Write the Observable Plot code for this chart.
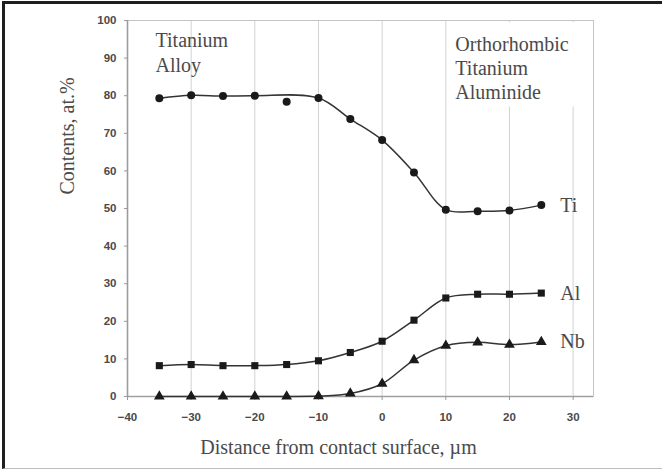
<!DOCTYPE html>
<html><head><meta charset="utf-8">
<script src="https://cdn.jsdelivr.net/npm/d3@7"></script>
<script src="https://cdn.jsdelivr.net/npm/@observablehq/plot@0.6"></script>
<style>
html,body{margin:0;padding:0;background:#fff;}
#wrap{position:relative;width:662px;height:470px;}
#border{position:absolute;left:2px;top:1px;width:660px;height:468px;box-sizing:border-box;border-top:3px solid #1e1e1e;border-left:3px solid #1e1e1e;border-bottom:1px solid #bdbdbd;pointer-events:none;}
</style></head><body><div id="wrap"><div id="border"></div></div>
<script>
const distances = [-35, -30, -25, -20, -15, -10, -5, 0, 5, 10, 15, 20, 25];
const tiValues = [79.3, 80.1, 79.9, 80.0, 78.4, 79.4, 73.8, 68.2, 59.6, 49.7, 49.3, 49.5, 50.9];
const alValues = [8.2, 8.5, 8.2, 8.2, 8.5, 9.5, 11.7, 14.7, 20.3, 26.2, 27.2, 27.2, 27.5];
const nbValues = [0, 0, 0, 0, 0, 0.1, 0.8, 3.4, 9.7, 13.5, 14.4, 13.8, 14.5];
const seriesNames = ["Ti", "Al", "Nb"];
const seriesSymbols = ["circle", "square", "triangle"];
const tiTrendSkip = [-15]; // outlier not followed by the Ti trend curve
const xTicks = [-40, -30, -20, -10, 0, 10, 20, 30];
const yTicks = [0, 10, 20, 30, 40, 50, 60, 70, 80, 90, 100];
const leftNote = ["Titanium", "Alloy"];
const rightNote = ["Orthorhombic", "Titanium", "Aluminide"];
const xTitle = "Distance from contact surface, \u00b5m";
const yTitle = "Contents, at.%";

const valueSets = [tiValues, alValues, nbValues];
const rows = [];
seriesNames.forEach((s, i) => distances.forEach((d, j) => rows.push({series: s, x: d, y: valueSets[i][j]})));

const serif = "Liberation Serif, Times New Roman, serif";
const sans = "Liberation Sans, Arial, sans-serif";
const textGray = "#4a4a4a";
const xDomain = [-40, 33.2];

const chart = Plot.plot({
  width: 662, height: 470,
  marginLeft: 127, marginRight: 69, marginTop: 20, marginBottom: 74,
  style: {fontFamily: sans, background: "white", overflow: "visible"},
  x: {domain: xDomain},
  y: {domain: [0, 100]},
  symbol: {domain: seriesNames, range: seriesSymbols},
  marks: [
    Plot.ruleX(xTicks.filter(d => d > xDomain[0]), {stroke: "#d2d2d2"}),
    Plot.rect([0], {x1: 11.0, x2: 33.0, y1: 77, y2: 99.4, fill: "white"}),
    Plot.frame({stroke: "#c4c4c4"}),
    Plot.ruleX([xDomain[0]], {stroke: "#9c9c9c", strokeWidth: 1.6}),
    Plot.ruleY([0], {stroke: "#a0a0a0", strokeWidth: 1.3}),
    Plot.axisY(yTicks, {tickSize: 3, tickPadding: 8, fontSize: 11.5, fontWeight: "bold", fill: textGray, stroke: "#999", label: null}),
    Plot.axisX(xTicks, {tickSize: 4, tickPadding: 12, fontSize: 11.5, fontWeight: "bold", fill: textGray, stroke: "#999", label: null}),
    Plot.line(rows.filter(d => d.series === "Ti" && !tiTrendSkip.includes(d.x)), {x: "x", y: "y", curve: "catmull-rom", stroke: "#333", strokeWidth: 1.5}),
    Plot.line(rows.filter(d => d.series !== "Ti"), {x: "x", y: "y", z: "series", curve: "catmull-rom", stroke: "#333", strokeWidth: 1.5}),
    Plot.dot(rows, {x: "x", y: "y", symbol: "series", fill: "#1a1a1a", r: 4}),
    Plot.text(rows, Plot.selectLast({x: "x", y: "y", z: "series", text: "series", dx: 19, textAnchor: "start", fontFamily: serif, fontSize: 20, fill: textGray})),
    Plot.text([leftNote.join("\n")], {x: -35.6, y: 97.6, textAnchor: "start", lineAnchor: "top", lineHeight: 1.25, fontFamily: serif, fontSize: 20, fill: textGray}),
    Plot.text([rightNote.join("\n")], {x: 11.5, y: 96.6, textAnchor: "start", lineAnchor: "top", lineHeight: 1.22, fontFamily: serif, fontSize: 20, fill: textGray}),
    Plot.text([xTitle], {frameAnchor: "bottom", dy: 57, dx: -22, fontFamily: serif, fontSize: 20, fill: textGray}),
    Plot.text([yTitle], {frameAnchor: "left", rotate: -90, dx: -60, dy: -14, fontFamily: serif, fontSize: 20, fill: textGray})
  ]
});
document.getElementById("wrap").prepend(chart);
</script></body></html>
